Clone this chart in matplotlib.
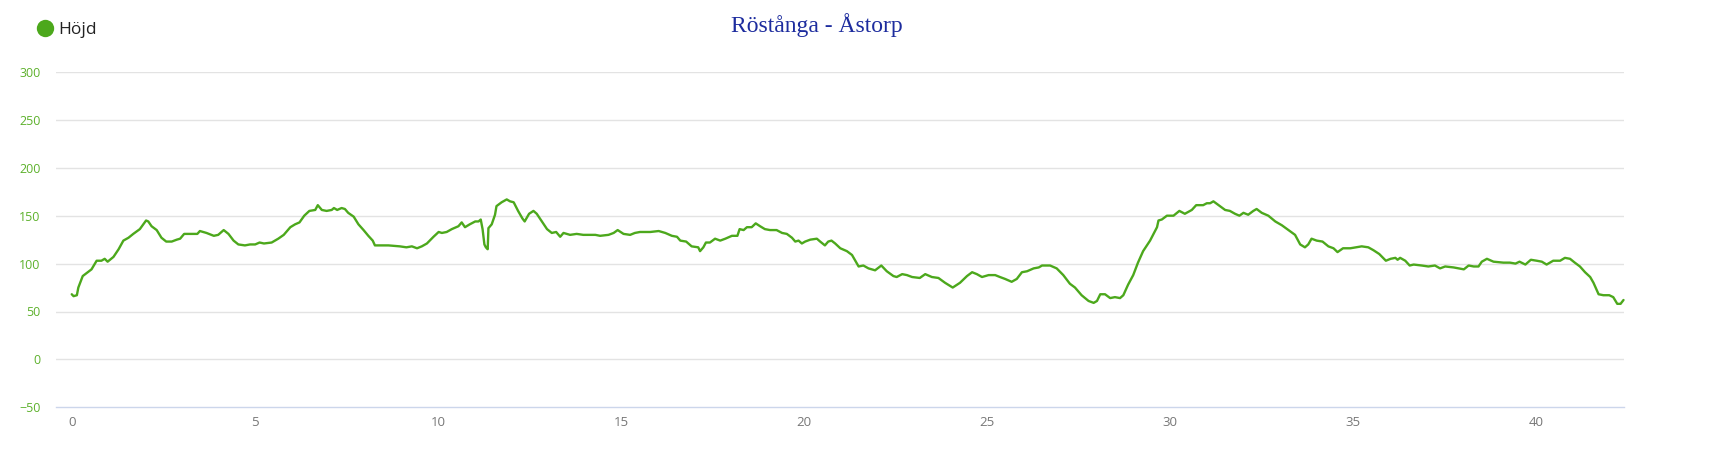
import matplotlib
matplotlib.use("Agg")
import matplotlib.pyplot as plt
from matplotlib.lines import Line2D

# ---- data (distance in km, elevation in m) ----
distance_km = [
    0.00, 0.05, 0.14, 0.18, 0.30, 0.54, 0.68, 0.81, 0.90, 0.98, 1.14, 1.28, 1.41, 1.55, 1.68, 1.86,
    2.03, 2.09, 2.18, 2.32, 2.45, 2.58, 2.73, 2.87, 2.96, 3.07, 3.23, 3.43, 3.50, 3.68, 3.88, 4.00,
    4.15, 4.28, 4.42, 4.55, 4.73, 4.87, 5.01, 5.13, 5.25, 5.46, 5.64, 5.79, 5.97, 6.10, 6.22, 6.35,
    6.49, 6.65, 6.72, 6.83, 6.96, 7.10, 7.16, 7.25, 7.37, 7.46,
    7.55, 7.70, 7.83, 7.97, 8.10, 8.22, 8.28, 8.37, 8.65, 8.96, 9.14, 9.29, 9.43, 9.56, 9.70, 9.88,
    10.02, 10.11, 10.24, 10.38, 10.56, 10.65, 10.74, 10.87, 11.02, 11.11, 11.17, 11.22, 11.27, 11.31,
    11.36, 11.38, 11.47, 11.56, 11.60, 11.74, 11.88, 11.97, 12.07, 12.19, 12.31, 12.37, 12.49, 12.61,
    12.70, 12.84, 12.98, 13.11, 13.23, 13.34, 13.43, 13.61, 13.79, 13.97, 14.30, 14.43,
    14.66, 14.80, 14.91, 15.07, 15.25, 15.38, 15.52, 15.80, 16.03, 16.21, 16.39, 16.53, 16.62, 16.78,
    16.93, 17.11, 17.16, 17.25, 17.32, 17.43, 17.57, 17.71, 17.85, 18.03, 18.18, 18.24, 18.35, 18.44,
    18.57, 18.68, 18.80, 18.93, 19.07, 19.25, 19.40, 19.53, 19.67, 19.76, 19.85, 19.94, 20.03, 20.17,
    20.35, 20.44, 20.57, 20.66, 20.75, 20.85, 20.99, 21.17, 21.31, 21.40, 21.49, 21.62, 21.76,
    21.94, 22.11, 22.26, 22.44, 22.53, 22.68, 22.81, 22.95, 23.16, 23.31, 23.49, 23.67, 23.85, 24.06,
    24.26, 24.45, 24.59, 24.72, 24.86, 25.04, 25.22, 25.35, 25.49, 25.67, 25.81, 25.95, 26.09, 26.27,
    26.41, 26.50, 26.59, 26.72, 26.90, 27.08, 27.26, 27.40, 27.58, 27.77, 27.91, 28.00, 28.09, 28.22,
    28.36, 28.49, 28.63, 28.72, 28.85, 28.99, 29.12, 29.26,
    29.45, 29.64, 29.68, 29.77, 29.91, 30.09, 30.25, 30.40, 30.59, 30.71, 30.90, 31.00, 31.09, 31.18,
    31.32, 31.50, 31.63, 31.77, 31.89, 32.00, 32.13, 32.27, 32.36, 32.50, 32.68, 32.87, 33.05, 33.23,
    33.41, 33.55, 33.68, 33.77, 33.86, 34.00, 34.16, 34.32, 34.46, 34.57, 34.72, 34.92, 35.08, 35.23,
    35.41, 35.55, 35.71, 35.89, 36.02, 36.15, 36.21, 36.28, 36.42, 36.54, 36.65,
    36.87, 37.05, 37.23, 37.37, 37.51, 37.74, 38.02, 38.15, 38.29, 38.42, 38.51, 38.65, 38.83, 39.10,
    39.28, 39.43, 39.54, 39.70, 39.85, 40.01, 40.15, 40.28, 40.46, 40.65, 40.78, 40.92, 41.05, 41.19,
    41.33, 41.47, 41.56, 41.70, 41.83, 41.99, 42.10, 42.21, 42.30, 42.38,
]
elevation_m = [
    68, 66, 67, 75, 87, 94, 103, 103, 105, 102, 107, 115, 124, 127, 131, 136,
    145, 144, 139, 135, 127, 123, 123, 125, 126, 131, 131, 131, 134, 132, 129, 130,
    135, 131, 124, 120, 119, 120, 120, 122, 121, 122, 126, 130, 138, 141, 143, 150,
    155, 156, 161, 156, 155, 156, 158, 156, 158, 157,
    153, 149, 141, 135, 129, 124, 119, 119, 119, 118, 117, 118, 116, 118, 121, 128,
    133, 132, 133, 136, 139, 143, 138, 141, 144, 144, 146, 136, 120, 117,
    115, 137, 141, 151, 160, 164, 167, 165, 164, 155, 147, 144, 152, 155,
    152, 144, 136, 132, 133, 128, 132, 130, 131, 130, 130, 129,
    130, 132, 135, 131, 130, 132, 133, 133, 134, 132, 129, 128, 124, 123,
    118, 117, 113, 117, 122, 122, 126, 124, 126, 129, 129, 136, 135, 138,
    138, 142, 139, 136, 135, 135, 132, 131, 127, 123, 124, 121, 123, 125,
    126, 123, 119, 123, 124, 121, 116, 113, 109, 103, 97, 98, 95,
    93, 98, 92, 87, 86, 89, 88, 86, 85, 89, 86, 85, 80, 75,
    80, 87, 91, 89, 86, 88, 88, 86, 84, 81, 84, 91, 92, 95,
    96, 98, 98, 98, 95, 88, 79, 75, 67, 61, 59, 61, 68, 68,
    64, 65, 64, 67, 78, 88, 101, 113,
    124, 138, 145, 146, 150, 150, 155, 152, 156, 161, 161, 163, 163, 165,
    161, 156, 155, 152, 150, 153, 151, 155, 157, 153, 150, 144, 140, 135,
    130, 120, 117, 120, 126, 124, 123, 118, 116, 112, 116, 116, 117, 118,
    117, 114, 110, 103, 105, 106, 104, 106, 103, 98, 99,
    98, 97, 98, 95, 97, 96, 94, 98, 97, 97, 102, 105, 102, 101,
    101, 100, 102, 99, 104, 103, 102, 99, 103, 103, 106, 105, 101, 97,
    91, 86, 80, 68, 67, 67, 65, 58, 58, 62,
]
x_ticks = [0, 5, 10, 15, 20, 25, 30, 35, 40]
y_ticks = [-50, 0, 50, 100, 150, 200, 250, 300]
title_text = "Röstånga - Åstorp"
series_name = "Höjd"

# ---- styling ----
W, H = 1726, 450
LINE_GREEN = "#4ca81c"
LABEL_GREEN = "#5db12c"
GRID = "#e3e3e3"
AXIS_LINE = "#ccd6eb"

fig = plt.figure(figsize=(W / 100, H / 100), dpi=100)
fig.patch.set_facecolor("white")

left, right = 56 / W, 1623.5 / W
bottom, top = 1 - 407.3 / H, 1 - 72 / H
ax = fig.add_axes([left, bottom, right - left, top - bottom])

ax.plot(distance_km, elevation_m, color=LINE_GREEN, linewidth=1.7,
        solid_joinstyle="round", solid_capstyle="round", zorder=3, clip_on=False)

ax.set_xlim(-0.43, 42.38)
ax.set_ylim(-50, 300)
ax.set_xticks(x_ticks)
ax.set_yticks(y_ticks)
ax.set_xticklabels([str(v) for v in x_ticks])
ax.set_yticklabels([("\u2212" + str(-v)) if v < 0 else str(v) for v in y_ticks])

for v in y_ticks:
    if v == -50:
        continue
    ax.axhline(v, color=GRID, linewidth=1.0, zorder=1)

for s in ["top", "right", "left"]:
    ax.spines[s].set_visible(False)
ax.spines["bottom"].set_color(AXIS_LINE)
ax.spines["bottom"].set_linewidth(1.0)

ax.tick_params(axis="y", length=0, pad=11, labelsize=9, labelcolor=LABEL_GREEN)
ax.tick_params(axis="x", length=0, pad=6, labelsize=9.5, labelcolor="#777777")
for lab in ax.get_xticklabels() + ax.get_yticklabels():
    lab.set_fontfamily(["Open Sans", "DejaVu Sans"])

# title
fig.text(816.5 / W, 1 - 32 / H, title_text, ha="center", va="baseline",
         fontsize=17, color="#1d2c9e", family=["Liberation Serif", "DejaVu Serif"])

# legend
handle = Line2D([0], [0], marker="o", linestyle="", color=LINE_GREEN,
                markersize=12.5, markeredgewidth=0)
fig.legend(handles=[handle], labels=[series_name], loc="center left",
           bbox_to_anchor=(36 / W, 1 - 30 / H), frameon=False,
           handlelength=1.0, handletextpad=0.3, borderpad=0, borderaxespad=0,
           prop={"family": ["Open Sans", "DejaVu Sans"], "size": 12.5},
           labelcolor="#222222")

fig.savefig("out.png", dpi=100, facecolor="white")
